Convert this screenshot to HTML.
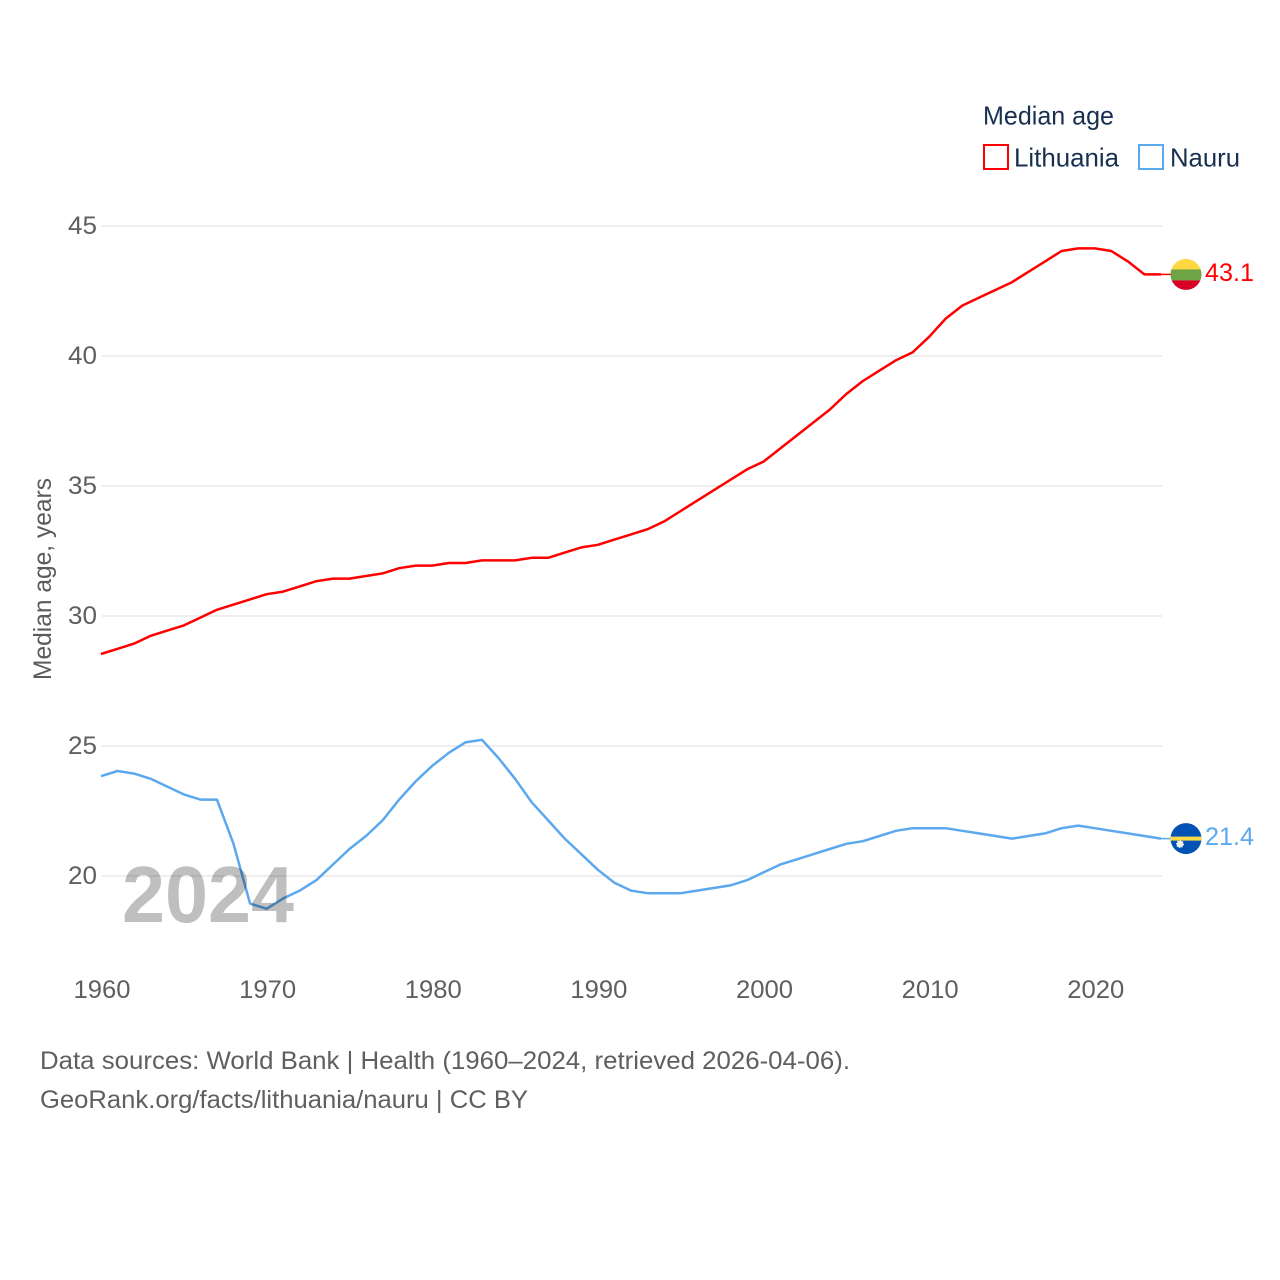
<!DOCTYPE html>
<html lang="en">
<head>
<meta charset="utf-8">
<title>Median age: Lithuania and Nauru</title>
<style>
html,body{margin:0;padding:0;background:#fff;width:1280px;height:1280px;overflow:hidden}
svg{display:block}
text{font-family:"Liberation Sans",sans-serif}
</style>
</head>
<body>
<svg id="chart" width="1280" height="1280" viewBox="0 0 1280 1280" xmlns="http://www.w3.org/2000/svg">
  <rect width="1280" height="1280" fill="#fff"/>
  <g id="grid"></g>
  <g id="yticks"></g>
  <g id="xticks"></g>
  <text transform="translate(51,579) rotate(-90)" text-anchor="middle" font-size="25" fill="#5b5b5b" textLength="202" lengthAdjust="spacingAndGlyphs">Median age, years</text>

  <g id="series" transform="translate(-1,-1)"></g>
  <text x="122" y="922" font-size="80" font-weight="bold" fill="#000" fill-opacity="0.25" textLength="172" lengthAdjust="spacingAndGlyphs">2024</text>

  <g>
    <text x="983" y="124.5" font-size="26" fill="#18304f" textLength="131" lengthAdjust="spacingAndGlyphs">Median age</text>
    <g>
      <rect x="984" y="145" width="24" height="24" fill="none" stroke="#ff0000" stroke-width="2"/>
      <text x="1014" y="166.5" font-size="26" fill="#18304f" textLength="105" lengthAdjust="spacingAndGlyphs">Lithuania</text>
    </g>
    <g>
      <rect x="1139" y="145" width="24" height="24" fill="none" stroke="#5ca8ee" stroke-width="2"/>
      <text x="1170" y="166.5" font-size="26" fill="#18304f" textLength="70" lengthAdjust="spacingAndGlyphs">Nauru</text>
    </g>
  </g>

  <defs>
    <clipPath id="clip-lt"><circle cx="1186" cy="0" r="15.5"/></clipPath>
    <clipPath id="clip-nr"><circle cx="1186" cy="0" r="15.5"/></clipPath>
  </defs>
  <g id="end-lt">
    <line id="conn-lt" x1="1161" x2="1172" stroke="#ff0000" stroke-width="1.5"/>
    <g id="flag-lt">
      <g clip-path="url(#clip-lt)">
        <rect x="1170" y="-16" width="32" height="11" fill="#ffd740"/>
        <rect x="1170" y="-5" width="32" height="11" fill="#6da544"/>
        <rect x="1170" y="6" width="32" height="11" fill="#d80027"/>
      </g>
    </g>
    <text id="label-lt" x="1205" font-size="25" fill="#ff0000" textLength="49" lengthAdjust="spacingAndGlyphs"></text>
  </g>
  <g id="end-nr">
    <line id="conn-nr" x1="1161" x2="1172" stroke="#5ca8ee" stroke-width="1.5"/>
    <g id="flag-nr">
      <g clip-path="url(#clip-nr)">
        <rect x="1170" y="-16" width="32" height="32" fill="#0052b4"/>
        <rect x="1170" y="-2" width="32" height="4" fill="#ffda44"/>
        <circle cx="1180" cy="5.5" r="3.2" fill="#f0f0f0" stroke="#f0f0f0" stroke-width="1.6" stroke-dasharray="1.2 1.2"/>
      </g>
    </g>
    <text id="label-nr" x="1205" font-size="25" fill="#5ca8ee" textLength="49" lengthAdjust="spacingAndGlyphs"></text>
  </g>

  <text x="40" y="1069" font-size="25" fill="#5f5f5f" textLength="810" lengthAdjust="spacingAndGlyphs">Data sources: World Bank | Health (1960–2024, retrieved 2026-04-06).</text>
  <text x="40" y="1108" font-size="25" fill="#5f5f5f" textLength="488" lengthAdjust="spacingAndGlyphs">GeoRank.org/facts/lithuania/nauru | CC BY</text>
</svg>
<script>
const years = [1960,1961,1962,1963,1964,1965,1966,1967,1968,1969,1970,1971,1972,1973,1974,1975,1976,1977,1978,1979,1980,1981,1982,1983,1984,1985,1986,1987,1988,1989,1990,1991,1992,1993,1994,1995,1996,1997,1998,1999,2000,2001,2002,2003,2004,2005,2006,2007,2008,2009,2010,2011,2012,2013,2014,2015,2016,2017,2018,2019,2020,2021,2022,2023,2024];
const lithuania = [28.5,28.7,28.9,29.2,29.4,29.6,29.9,30.2,30.4,30.6,30.8,30.9,31.1,31.3,31.4,31.4,31.5,31.6,31.8,31.9,31.9,32.0,32.0,32.1,32.1,32.1,32.2,32.2,32.4,32.6,32.7,32.9,33.1,33.3,33.6,34.0,34.4,34.8,35.2,35.6,35.9,36.4,36.9,37.4,37.9,38.5,39.0,39.4,39.8,40.1,40.7,41.4,41.9,42.2,42.5,42.8,43.2,43.6,44.0,44.1,44.1,44.0,43.6,43.1,43.1];
const nauru = [23.8,24.0,23.9,23.7,23.4,23.1,22.9,22.9,21.2,18.9,18.7,19.1,19.4,19.8,20.4,21.0,21.5,22.1,22.9,23.6,24.2,24.7,25.1,25.2,24.5,23.7,22.8,22.1,21.4,20.8,20.2,19.7,19.4,19.3,19.3,19.3,19.4,19.5,19.6,19.8,20.1,20.4,20.6,20.8,21.0,21.2,21.3,21.5,21.7,21.8,21.8,21.8,21.7,21.6,21.5,21.4,21.5,21.6,21.8,21.9,21.8,21.7,21.6,21.5,21.4];
const yTickValues = [20,25,30,35,40,45];
const xTickValues = [1960,1970,1980,1990,2000,2010,2020];

const NS = 'http://www.w3.org/2000/svg';
function xScale(year){ return 102 + (year - 1960) * (1162 - 102) / (2024 - 1960); }
function yScale(v){ return 876 - (v - 20) * (876 - 226) / (45 - 20); }
function make(tag){ return document.createElementNS(NS, tag); }

const gridG = document.getElementById('grid');
const yG = document.getElementById('yticks');
yTickValues.forEach(function(v){
  const l = make('line');
  
  
  l.setAttribute('x1', 102);
  l.setAttribute('x2', 1162);
  l.setAttribute('y1', yScale(v));
  l.setAttribute('y2', yScale(v));
  l.setAttribute('stroke', '#eeeeee');
  l.setAttribute('stroke-width', 2);
  gridG.appendChild(l);
  const t = make('text');
  
  
  t.setAttribute('x', 68);
  t.setAttribute('y', yScale(v) + 8);
  t.setAttribute('font-size', 25);
  t.setAttribute('fill', '#5f5f5f');
  t.setAttribute('textLength', 29);
  t.setAttribute('lengthAdjust', 'spacingAndGlyphs');
  t.textContent = v;
  yG.appendChild(t);
});

const xG = document.getElementById('xticks');
xTickValues.forEach(function(v){
  const t = make('text');
  
  
  t.setAttribute('x', xScale(v) - 28.5);
  t.setAttribute('y', 998);
  t.setAttribute('font-size', 25);
  t.setAttribute('fill', '#5f5f5f');
  t.setAttribute('textLength', 57);
  t.setAttribute('lengthAdjust', 'spacingAndGlyphs');
  t.textContent = v;
  xG.appendChild(t);
});

function pathFor(values){
  return values.map(function(v, i){ return xScale(years[i]).toFixed(2) + ',' + yScale(v).toFixed(2); }).join(' ');
}
const seriesG = document.getElementById('series');
const ltLine = make('polyline');


ltLine.setAttribute('points', pathFor(lithuania));
ltLine.setAttribute('fill', 'none');
ltLine.setAttribute('stroke', '#ff0000');
ltLine.setAttribute('stroke-width', 2.5);
ltLine.setAttribute('stroke-linejoin', 'round');
seriesG.appendChild(ltLine);
const nrLine = make('polyline');


nrLine.setAttribute('points', pathFor(nauru));
nrLine.setAttribute('fill', 'none');
nrLine.setAttribute('stroke', '#5ca8ee');
nrLine.setAttribute('stroke-width', 2.5);
nrLine.setAttribute('stroke-linejoin', 'round');
seriesG.appendChild(nrLine);

function placeEnd(suffix, values){
  const last = values[values.length - 1];
  const y = yScale(last) - 1;
  const conn = document.getElementById('conn-' + suffix);
  conn.setAttribute('y1', y);
  conn.setAttribute('y2', y);
  document.getElementById('flag-' + suffix).setAttribute('transform', 'translate(0,' + y + ')');
  const label = document.getElementById('label-' + suffix);
  label.setAttribute('y', y + 6.5);
  label.textContent = last.toFixed(1);
}
placeEnd('lt', lithuania);
placeEnd('nr', nauru);
</script>
</body>
</html>
